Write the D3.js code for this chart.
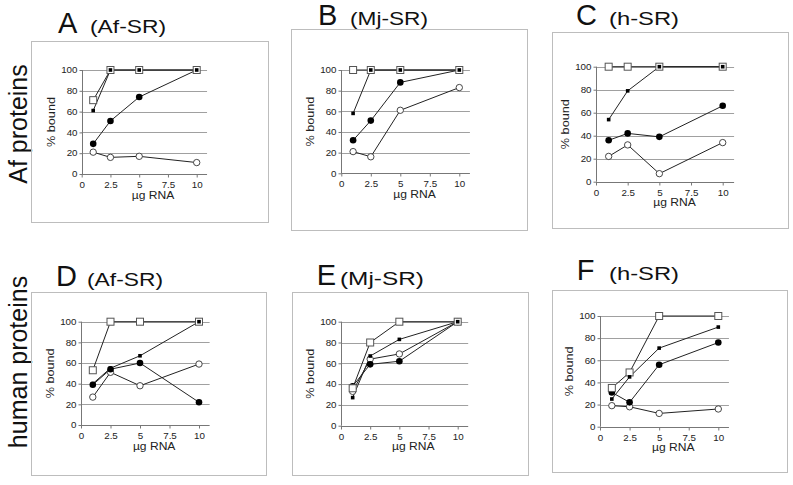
<!DOCTYPE html>
<html><head><meta charset="utf-8">
<script src="https://cdn.jsdelivr.net/npm/d3@7"></script>
<style>body{margin:0;background:#fff} svg{display:block;font-family:"Liberation Sans",Arial,sans-serif}</style>
</head><body><svg id="c" width="793" height="485"></svg>
<script>
// ---- data ----
const xValues = [1, 2.5, 5, 10];
const xTicks = [0, 2.5, 5, 7.5, 10];
const yTicks = [0, 20, 40, 60, 80, 100];
const xDomain = [0, 10.9];
const yDomain = [0, 100];
const panelLetters = ["A", "B", "C", "D", "E", "F"];
const panelSubtitles = ["(Af-SR)", "(Mj-SR)", "(h-SR)", "(Af-SR)", "(Mj-SR)", "(h-SR)"];
const rowLabels = ["Af proteins", "human proteins"];
const xAxisTitle = "µg RNA";
const yAxisTitle = "% bound";
// one row per panel A..F, values at xValues
const openSquare   = [[71,100,100,100],[100,100,100,100],[100,100,100,100],[53,100,100,100],[36,80,100,100],[35,49,100,100]];
const filledSquare = [[61,100,100,100],[58,100,100,100],[54,79,100,100],[40,55,67,100],[27,67,83,100],[25,45,71,90]];
const filledCircle = [[29,51,74,100],[32,51,88,100],[36,42,39,66],[39,54,60,22],[38,59,62,100],[31,22,56,76]];
const openCircle   = [[21,16,17,11],[21,16,61,83],[22,32,7,34],[27,51,38,59],[33,64,69,100],[19,18,12,16]];

// ---- layout ----
const layout = [
  {box:[31,41,268,222],  x0:81.7, x10:196.7, y0:174,   y100:70,    lt:[58,33],   st:[90,33,76]},
  {box:[291,29,527,230], x0:341.3,x10:459.3, y0:173.3, y100:70,    lt:[318,25],  st:[350,25,78]},
  {box:[552,32,788,228], x0:596,  x10:722.7, y0:181.7, y100:66.7,  lt:[576,25],  st:[609,25,70]},
  {box:[31,292,266,475], x0:81,   x10:199,   y0:425,   y100:321.7, lt:[56,285.7],st:[87,285.7,76]},
  {box:[292,292,528,475],x0:341,  x10:457.7, y0:425.7, y100:321.7, lt:[316.7,285],st:[340,285,84]},
  {box:[552,290,787,472],x0:600,  x10:718.3, y0:426.7, y100:316,   lt:[576.7,280],st:[609,280,70]}
];
const rowLabelPos = [[26.5,124],[26.5,362]];
const STRETCH = 1.15;

function stretch(sel, k){
  sel.each(function(){
    const l = this.getComputedTextLength();
    d3.select(this).attr("textLength", l*k).attr("lengthAdjust","spacingAndGlyphs");
  });
}

const svg = d3.select("#c");
svg.append("rect").attr("width",793).attr("height",485).attr("fill","#fff");

rowLabels.forEach((t,i)=>{
  svg.append("text").attr("transform",`translate(${rowLabelPos[i][0]},${rowLabelPos[i][1]}) rotate(-90)`)
    .attr("text-anchor","middle").attr("font-size",25).attr("fill","#111").text(t);
});

const seriesDefs = [
  {data:openCircle,  shape:"ocircle"},
  {data:filledCircle,shape:"fcircle"},
  {data:openSquare,  shape:"osquare"},
  {data:filledSquare,shape:"fsquare"}
];

layout.forEach((L,p)=>{
  const g = svg.append("g");
  const [bx0,by0,bx1,by1] = L.box;
  g.append("rect").attr("x",bx0+0.5).attr("y",by0+0.5).attr("width",bx1-bx0).attr("height",by1-by0)
    .attr("fill","none").attr("stroke","#bdbdbd").attr("stroke-width",1);
  const xRight = L.x0 + (L.x10-L.x0)*xDomain[1]/10;
  const x = d3.scaleLinear().domain(xDomain).range([L.x0, xRight]);
  const y = d3.scaleLinear().domain(yDomain).range([L.y0, L.y100]);

  // titles
  g.append("text").attr("x",L.lt[0]).attr("y",L.lt[1]).attr("font-size",29).attr("fill","#111").text(panelLetters[p]);
  g.append("text").attr("x",L.st[0]).attr("y",L.st[1]).attr("font-size",19).attr("fill","#111")
    .attr("textLength",L.st[2]).attr("lengthAdjust","spacingAndGlyphs").text(panelSubtitles[p]);

  // gridlines
  g.selectAll(".grid").data(yTicks.filter(d=>d>0)).join("line")
    .attr("x1",x(0)).attr("x2",xRight).attr("y1",d=>Math.round(y(d))+0.5).attr("y2",d=>Math.round(y(d))+0.5)
    .attr("stroke","#a0a0a0").attr("stroke-width",1);

  // axes
  const yAxis = d3.axisLeft(y).tickValues(yTicks).tickSize(3).tickPadding(2).tickFormat(d3.format("d"));
  const ya = g.append("g").attr("transform",`translate(${Math.round(x(0))+0.5},0)`).call(yAxis);
  const xAxis = d3.axisBottom(x).tickValues(xTicks).tickSize(3).tickPadding(4).tickFormat(d=>String(d));
  const xa = g.append("g").attr("transform",`translate(0,${Math.round(y(0))+0.5})`).call(xAxis);
  [ya,xa].forEach(a=>{
    a.select(".domain").attr("stroke","#777").attr("d", a===ya ? `M0,${y(100)}V${y(0)}` : `M${x(0)},0H${xRight}`);
    a.selectAll(".tick line").attr("stroke","#777");
    a.selectAll(".tick text").attr("font-size",8.5).attr("fill","#222").attr("font-family","Liberation Sans, Arial, sans-serif");
    stretch(a.selectAll(".tick text"), STRETCH);
  });

  // axis titles
  const yt = g.append("text").attr("transform",`translate(${L.x0-27},${(L.y0+L.y100)/2}) rotate(-90)`)
    .attr("text-anchor","middle").attr("font-size",11).attr("fill","#222").text(yAxisTitle);
  stretch(yt, STRETCH);
  const xt = g.append("text").attr("x",L.x0+0.62*(L.x10-L.x0)).attr("y",L.y0+24.5)
    .attr("text-anchor","middle").attr("font-size",10.5).attr("fill","#222").text(xAxisTitle);
  stretch(xt, STRETCH);

  // lines
  const line = d3.line().x((d,i)=>x(xValues[i])).y(d=>y(d));
  seriesDefs.forEach(s=>{
    g.append("path").attr("d",line(s.data[p])).attr("fill","none").attr("stroke","#222").attr("stroke-width",1);
  });
  // markers
  seriesDefs.forEach(s=>{
    const pts = s.data[p].map((v,i)=>[x(xValues[i]),y(v)]);
    if(s.shape==="ocircle"){
      g.selectAll(null).data(pts).join("circle").attr("cx",d=>d[0]).attr("cy",d=>d[1]).attr("r",3.2)
        .attr("fill","#fff").attr("stroke","#333").attr("stroke-width",0.9);
    } else if(s.shape==="fcircle"){
      g.selectAll(null).data(pts).join("circle").attr("cx",d=>d[0]).attr("cy",d=>d[1]).attr("r",3.3)
        .attr("fill","#000");
    } else if(s.shape==="osquare"){
      g.selectAll(null).data(pts).join("rect").attr("x",d=>d[0]-3.5).attr("y",d=>d[1]-3.5).attr("width",7).attr("height",7)
        .attr("fill","#fff").attr("stroke","#555").attr("stroke-width",1);
    } else {
      g.selectAll(null).data(pts).join("rect").attr("x",d=>d[0]-1.8).attr("y",d=>d[1]-1.8).attr("width",3.6).attr("height",3.6)
        .attr("fill","#000");
    }
  });
});
</script></body></html>
